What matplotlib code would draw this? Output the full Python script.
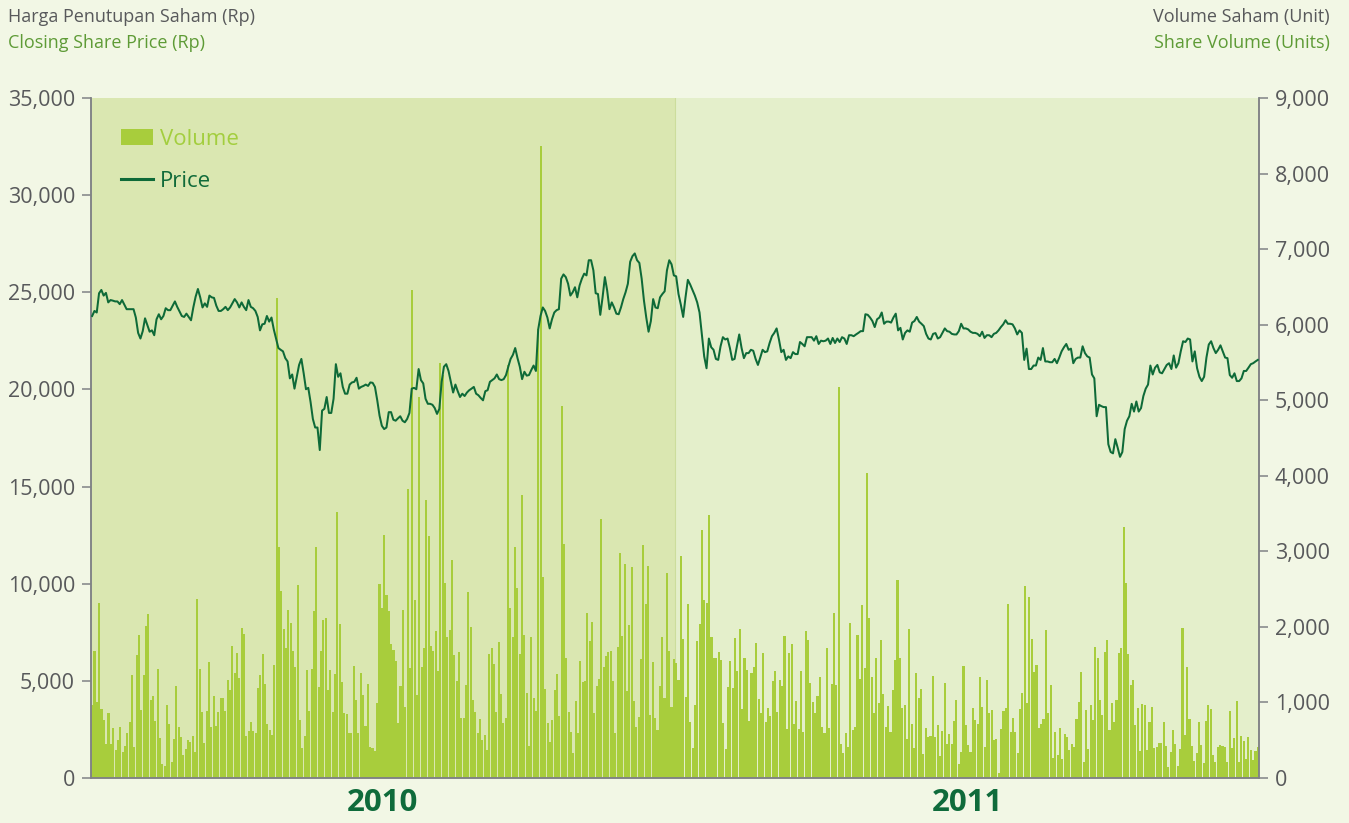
import matplotlib
matplotlib.use('Agg')
import matplotlib.pyplot as plt
import numpy as np
from matplotlib.patches import Patch
from matplotlib.lines import Line2D
from matplotlib.ticker import FuncFormatter

plt.rcParams['font.family'] = ['Open Sans', 'DejaVu Sans']

years = ['2010', '2011']
price_ticks = [0, 5000, 10000, 15000, 20000, 25000, 30000, 35000]
volume_ticks = [0, 1000, 2000, 3000, 4000, 5000, 6000, 7000, 8000, 9000]

volume_2010 = [
    970, 1680, 1010, 2320, 910, 770, 455, 860, 450, 660,
    375, 500, 680, 345, 430, 590, 745, 1360, 410, 1625,
    1890, 900, 1360, 2010, 2170, 1035, 1080, 760, 1440, 535,
    190, 165, 970, 710, 210, 520, 1220, 680, 545, 310,
    390, 500, 480, 560, 350, 2375, 1440, 880, 465, 890,
    1535, 670, 1090, 690, 875, 1055, 1060, 890, 1295, 1160,
    1750, 1390, 1660, 1320, 1980, 1905, 555, 620, 735, 625,
    590, 1190, 1360, 1640, 1250, 715, 635, 565, 1490, 6350,
    3055, 2480, 1975, 1725, 2230, 2055, 1680, 1465, 2555, 770,
    400, 560, 1425, 890, 1445, 2205, 3060, 1200, 1680, 2085,
    2120, 1160, 1430, 880, 1380, 3515, 2040, 1275, 865, 850,
    590, 600, 1480, 1035, 590, 1390, 1100, 690, 1245, 410,
    400, 355, 990, 2565, 2250, 3210, 2420,
    2205, 1772, 1696, 1549, 723, 1223, 2228, 937, 3826, 1460,
    6455, 2353, 1103, 5040, 1473, 1714, 3678, 3201, 1750, 1683,
    1951, 1415, 5490, 5330, 2585, 1861, 1960, 2879, 1625, 1281,
    1670, 799, 790, 1237, 2464, 2004, 1036, 879, 598, 777,
    500, 567, 375, 1638, 1714, 1504, 879, 1803, 1116, 723,
    790, 5460, 2250, 1870, 3058, 2518, 1638, 3750, 1893, 1125,
    420, 1861, 1058, 893, 5940, 8370, 2665, 1178, 732, 478,
    768, 1170, 1370, 821, 4920, 3098, 1594, 879, 612, 330,
    1013, 598, 1549, 1268, 1281, 2187, 1817, 2062, 866, 1214,
    1312, 3433, 1473, 1616, 1670, 1683, 1281, 598, 1728, 2977,
    1884, 2835, 1147, 2027, 2790, 1013, 679, 804, 1580, 3089,
    2308, 2812, 835, 1536, 790, 634, 1214, 1861, 1058, 2710,
    1683, 946, 1580,
]

volume_2011 = [
    1518, 1303, 2942, 1839, 1071, 2299, 745, 402, 969, 1808,
    2040, 3281, 2353, 2321, 3482, 1870, 1585, 1594, 1674, 1562,
    732, 388, 1205, 1549, 1190, 1848, 1415, 1973, 911, 1594,
    1424, 754, 1384, 1473, 1781, 1045, 860, 1661, 745, 924,
    821, 1290, 1415, 875, 1295, 1214, 1875, 643, 1652, 1772,
    710, 1013, 643, 1420, 612, 1951, 1830, 1259, 1000, 866,
    1080, 1335, 670, 598, 1714, 656, 1250, 2187, 1237, 5180,
    446, 330, 598, 411, 2053, 634, 679, 1893, 1312, 2295,
    1451, 4035, 2116, 1339, 857, 1594, 991, 1830, 1112, 679,
    955, 603, 1170, 1562, 2620, 1585, 920, 969, 522, 1973,
    710, 402, 1384, 1058, 1183, 312, 656, 545, 562, 1348,
    545, 701, 286, 625, 1259, 455, 580, 455, 754, 1036,
    187, 344, 1482, 701, 433,
    344, 924, 768, 714, 1339, 946, 411, 1295, 857, 902,
    509, 522, 60, 647, 888, 924, 2303, 612, 790, 612,
    330, 911, 1125, 2545, 991, 2397, 1839, 1402, 1491, 656,
    710, 781, 1960, 857, 1237, 259, 607, 304, 665, 254,
    580, 545, 366, 446, 411, 777, 1004, 1406, 210, 902,
    388, 969, 768, 1728, 1585, 1027, 835, 1674, 1830, 634,
    991, 745, 1027, 1661, 1719, 3321, 2576, 1638, 1228, 1295,
    701, 933, 353, 978, 960, 366, 745, 937, 402, 411,
    464, 464, 745, 420, 143, 344, 634, 455, 165, 388,
    1982, 567, 1469, 777, 420, 223, 330, 737, 433, 201,
    754, 969, 911, 308, 210, 411, 433, 420, 411, 210,
    888, 397, 536, 1013, 210, 554, 487, 254, 545, 375,
    232, 357, 411,
]

price_2010 = [
    23780, 24040, 23960, 24950, 25120, 24830, 24970, 24480, 24600, 24570,
    24530, 24530, 24390, 24600, 24360, 24130, 24130, 24130, 24130, 23700,
    22910, 22620, 23000, 23660, 23310, 22970, 23040, 22790, 23610, 23870,
    23610, 23780, 24180, 24080, 24080, 24310, 24530, 24250, 24010, 23780,
    23730, 23900, 23730, 23560, 24220, 24770, 25170, 24740, 24220, 24430,
    24250, 24830, 24740, 24710, 24310, 24040, 24040, 24130, 24250, 24080,
    24220, 24430, 24650, 24480, 24220, 24480, 24250, 24080, 24600, 24250,
    24180, 24040, 23730, 23040, 23350, 23380, 23780, 23490, 23700, 23090,
    22620, 22130, 22040, 21960, 21610, 21440, 20570, 20770, 20040, 20650,
    21260, 21570, 20830, 20010, 20080, 19350, 18480, 18040, 18040, 16880,
    18910, 19000, 19610, 18790, 18790, 19520, 21300, 20650, 20830, 20130,
    19780, 19780, 20250, 20360, 20390, 20600, 20040, 20130, 20180, 20250,
    20180, 20360, 20340, 20130, 19440, 18650, 18130, 17960, 18040,
    18830, 18830, 18440, 18390, 18510, 18620, 18390, 18310, 18480, 18790,
    20040, 20080, 20010, 21050, 20480, 20310, 19520, 19260, 19260, 19210,
    19040, 18740, 19000, 20390, 21170, 21300, 20950, 20390, 19840, 20250,
    19910, 19610, 19780, 19660, 19840, 19960, 20040, 20130, 19780, 19700,
    19560, 19440, 19910, 19960, 20390, 20480, 20570, 20770, 20530, 20480,
    20530, 20740, 21170, 21570, 21780, 22130, 21610, 21170, 20530, 20910,
    20710, 20740, 21000, 21230, 20950, 23090, 23780, 24220, 24040, 23700,
    23140, 23610, 23960, 24080, 24130, 25700, 25920, 25780, 25440, 24830,
    25000, 25260, 24740, 25350, 25700, 25960, 25870, 26650, 26650, 26130,
    24950, 24910, 23840, 24740, 25780, 25090, 24130, 24480, 24220, 23900,
    23870, 24220, 24650, 25000, 25440, 26570, 26860, 27000, 26650, 26510,
    25700, 24570, 23700, 22970, 23520, 24650, 24220, 24180, 24740, 24910,
    25050, 26130, 26650, 26440, 25870,
]

price_2011 = [
    25820, 24910, 24360, 23730, 24740, 25640, 25400, 25120, 24830, 24480,
    23960, 22830, 21700, 21090, 22620, 22170, 22040, 21570, 21520, 22220,
    22690, 22570, 22620, 22130, 21520, 21570, 22220, 22830, 22130, 21610,
    21870, 21870, 22040, 21990, 21570, 21260, 21640, 22040, 21920, 21960,
    22390, 22740, 22910, 23140, 22570, 21920, 22040, 21520, 21700, 21610,
    21920, 21820, 21820, 22440, 22340, 22220, 22690, 22690, 22690, 22510,
    22740, 22340, 22510, 22480, 22510, 22620, 22340, 22650, 22390, 22620,
    22440, 22690, 22620, 22340, 22790, 22790, 22740, 22830, 22910, 23000,
    23000, 23870, 23840, 23700, 23520, 23210, 23610, 23700, 23960, 23380,
    23490, 23490, 23440, 23700, 23900, 23040, 23170, 22570, 22910, 23040,
    22970, 23440, 23520, 23730, 23490, 23380, 23260, 22860, 22620, 22570,
    22860, 22900, 22620, 22690, 22910, 23140, 23000, 22970, 22860, 22830,
    22830, 23000, 23380, 23140, 23140,
    23090, 22970, 22910, 22910, 22860, 22740, 22970, 22650, 22790, 22790,
    22690, 22860, 22910, 23040, 23210, 23350, 23560, 23380, 23380, 23350,
    23140, 22830, 23040, 22910, 21520, 22100, 21050, 21050, 21230, 21230,
    21640, 21520, 22130, 21440, 21440, 21400, 21400, 21570, 21350, 21640,
    21960, 22170, 22340, 22040, 22100, 21350, 21570, 21640, 21640, 22220,
    21870, 21700, 21640, 20770, 20570, 18620, 19210, 19140, 19090, 19090,
    17180, 16780, 16710, 17440, 17000, 16530, 16780, 17960, 18390, 18620,
    19260, 18860, 19380, 18860, 19040, 19660, 20040, 20250, 21230, 20770,
    21120, 21260, 20880, 20830, 21050, 21260, 21350, 21050, 21750, 21120,
    21350, 21960, 22480, 22440, 22620, 22570, 21440, 21960, 21090, 20650,
    20430, 20650, 21640, 22310, 22480, 22130, 21870, 22040, 22270, 21960,
    21640, 21610, 20740, 20600, 20830, 20430, 20430, 20570, 20950, 20950,
    21120, 21300, 21350, 21440, 21520,
]

# ---------------- styling ----------------
FIG_BG = '#F2F7E5'
BG_2010 = '#DAE7B1'
BG_2011 = '#E4EFCB'
BAR_C = '#A8CD3C'
LINE_C = '#0E6A38'
AXIS_C = '#808285'
TEXT_GREY = '#58595B'
TEXT_GREEN = '#5E9B36'

W, H = 1349, 823
fig = plt.figure(figsize=(W / 100, H / 100), dpi=100, facecolor=FIG_BG)
L, R, B, T = 91, 1259, 778, 98
ax = fig.add_axes([L / W, 1 - B / H, (R - L) / W, (B - T) / H])
ax2 = ax.twinx()

# background year panels (on volume axis, lowest layer)
ax2.axvspan(0, 1, color=BG_2010, zorder=0, lw=0)
ax2.axvspan(1, 2, color=BG_2011, zorder=0, lw=0)
ax2.axvline(1, color='#CCDD9C', lw=0.8, zorder=0.5)

def draw_year(offset, vols, prices):
    n = len(vols)
    xv = offset + (np.arange(n) + 0.5) / n
    ax2.bar(xv, vols, width=0.88 / n, color=BAR_C, lw=0, zorder=1)
    m = len(prices)
    xp = offset + (np.arange(m) + 0.5) / m
    return xp, prices

xp1, p1 = draw_year(0, volume_2010, price_2010)
xp2, p2 = draw_year(1, volume_2011, price_2011)
xp = np.concatenate([xp1, xp2])
pp = np.concatenate([p1, p2])
ax.plot(xp, pp, color=LINE_C, lw=1.45, zorder=3, solid_joinstyle='round')

ax.set_zorder(ax2.get_zorder() + 1)
ax.patch.set_visible(False)
ax2.patch.set_facecolor(FIG_BG)

ax.set_xlim(0, 2)
ax.set_ylim(0, 35000)
ax2.set_ylim(0, 9000)
ax.set_yticks(price_ticks)
ax2.set_yticks(volume_ticks)
fmt = FuncFormatter(lambda v, p: f'{v:,.0f}')
ax.yaxis.set_major_formatter(fmt)
ax2.yaxis.set_major_formatter(fmt)

for a in (ax, ax2):
    a.spines['top'].set_visible(False)
    for s in ('left', 'right', 'bottom'):
        a.spines[s].set_color(AXIS_C)
        a.spines[s].set_linewidth(1.1)
for a in (ax, ax2):
    a.tick_params(axis='y', direction='out', length=6.5, width=1.1, color=AXIS_C,
                  pad=5, labelsize=15.5, labelcolor=TEXT_GREY)

ax.set_xticks([0.5, 1.5])
ax.set_xticklabels(years)
ax.tick_params(axis='x', length=0, pad=7, labelsize=22.5, labelcolor='#0F6B3B')
for lbl in ax.get_xticklabels():
    lbl.set_fontweight('bold')
ax2.tick_params(axis='x', length=0)

# header texts
fs_head = 13
fig.text(8 / W, 1 - 17 / H, 'Harga Penutupan Saham (Rp)', ha='left', va='center',
         fontsize=fs_head, color=TEXT_GREY)
fig.text(8 / W, 1 - 43 / H, 'Closing Share Price (Rp)', ha='left', va='center',
         fontsize=fs_head, color=TEXT_GREEN)
fig.text(1330 / W, 1 - 17 / H, 'Volume Saham (Unit)', ha='right', va='center',
         fontsize=fs_head, color=TEXT_GREY)
fig.text(1330 / W, 1 - 43 / H, 'Share Volume (Units)', ha='right', va='center',
         fontsize=fs_head, color=TEXT_GREEN)

# legend
handles = [Patch(facecolor=BAR_C, edgecolor='none'),
           Line2D([0], [0], color=LINE_C, lw=2.2)]
leg = ax.legend(handles, ['Volume', 'Price'], loc='upper left',
                bbox_to_anchor=((121 - L) / (R - L), (B - 129) / (B - T)),
                frameon=False, fontsize=16, handlelength=1.45, handleheight=0.72,
                handletextpad=0.3, labelspacing=0.95, borderpad=0, borderaxespad=0)
leg.get_texts()[0].set_color('#A3CE3E')
leg.get_texts()[1].set_color('#106B3A')

fig.savefig('out.png', dpi=100, facecolor=FIG_BG)
